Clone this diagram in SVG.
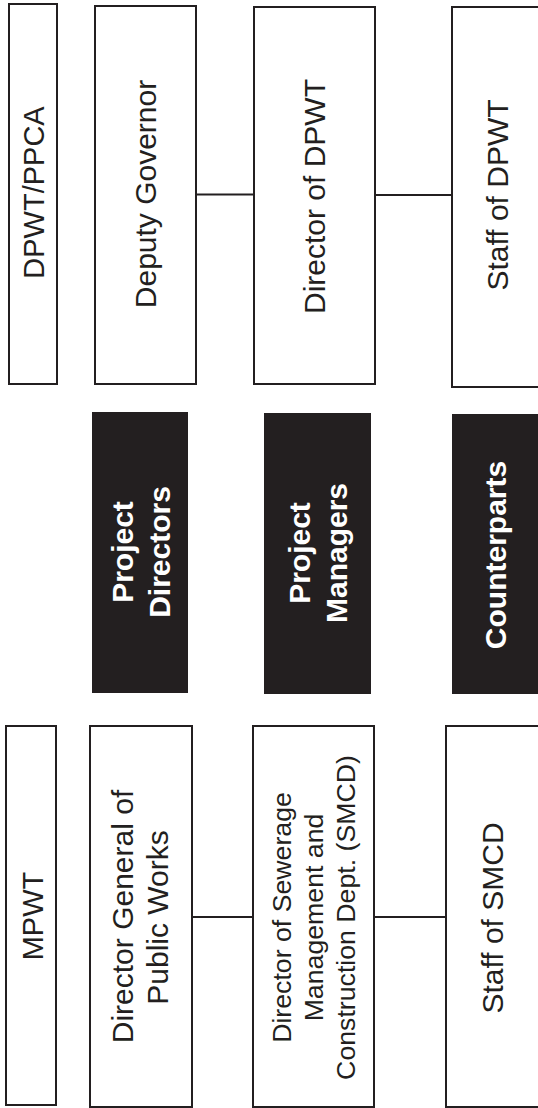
<svg xmlns="http://www.w3.org/2000/svg" width="538" height="1108" viewBox="0 0 538 1108">
<style>
.box{fill:#fff;stroke:#231f20;stroke-width:2}
.dark{fill:#231f20;stroke:none}
.conn{stroke:#231f20;stroke-width:2;fill:none}
.t{font-family:"Liberation Sans",Arial,sans-serif;font-size:30px;fill:#231f20;text-anchor:middle}
.ts{font-family:"Liberation Sans",Arial,sans-serif;font-size:26.7px;fill:#231f20;text-anchor:middle}
.tb{font-family:"Liberation Sans",Arial,sans-serif;font-size:30px;font-weight:bold;fill:#fff;text-anchor:middle}
</style>
<rect width="538" height="1108" fill="#fff"/>
<g id="connectors">
<line class="conn" x1="196" y1="194.5" x2="254" y2="194.5"/>
<line class="conn" x1="375" y1="195" x2="452" y2="195"/>
<line class="conn" x1="192" y1="917" x2="253" y2="917"/>
<line class="conn" x1="374" y1="917" x2="446" y2="917"/>
</g>
<g id="dpwt-ppca">
<rect class="box" x="9" y="4" width="48" height="380"/>
<text class="t" font-size="29" transform="translate(44,192.5) rotate(-90)" style="font-size:29px">DPWT/PPCA</text>
</g>
<g id="deputy-governor">
<rect class="box" x="95" y="6" width="101" height="378"/>
<text class="t" transform="translate(156,194) rotate(-90)">Deputy Governor</text>
</g>
<g id="director-dpwt">
<rect class="box" x="254" y="7" width="121" height="377"/>
<text class="t" transform="translate(325,196.5) rotate(-90)">Director of DPWT</text>
</g>
<g id="staff-dpwt">
<rect class="box" x="452" y="7" width="96" height="380"/>
<text class="t" transform="translate(508,195) rotate(-90)">Staff of DPWT</text>
</g>
<g id="project-directors">
<rect class="dark" x="92" y="412" width="96" height="281"/>
<text class="tb" transform="translate(133,552) rotate(-90)">Project</text>
<text class="tb" transform="translate(170,552) rotate(-90)">Directors</text>
</g>
<g id="project-managers">
<rect class="dark" x="264" y="413" width="107" height="281"/>
<text class="tb" transform="translate(310,553) rotate(-90)">Project</text>
<text class="tb" transform="translate(347,553) rotate(-90)">Managers</text>
</g>
<g id="counterparts">
<rect class="dark" x="452" y="414" width="96" height="280"/>
<text class="tb" transform="translate(506,555) rotate(-90)">Counterparts</text>
</g>
<g id="mpwt">
<rect class="box" x="6" y="726" width="50" height="379"/>
<text class="t" transform="translate(43,916) rotate(-90)" style="font-size:29px">MPWT</text>
</g>
<g id="director-general">
<rect class="box" x="90" y="726" width="102" height="381"/>
<text class="t" transform="translate(133,916.5) rotate(-90)">Director General of</text>
<text class="t" transform="translate(168,917.5) rotate(-90)">Public Works</text>
</g>
<g id="director-smcd">
<rect class="box" x="253" y="726" width="121" height="381"/>
<text class="ts" transform="translate(291,917.5) rotate(-90)">Director of Sewerage</text>
<text class="ts" transform="translate(323,917.5) rotate(-90)">Management and</text>
<text class="ts" transform="translate(355,917.5) rotate(-90)">Construction Dept. (SMCD)</text>
</g>
<g id="staff-smcd">
<rect class="box" x="446" y="726" width="102" height="381"/>
<text class="t" transform="translate(503,918) rotate(-90)">Staff of SMCD</text>
</g>
</svg>
